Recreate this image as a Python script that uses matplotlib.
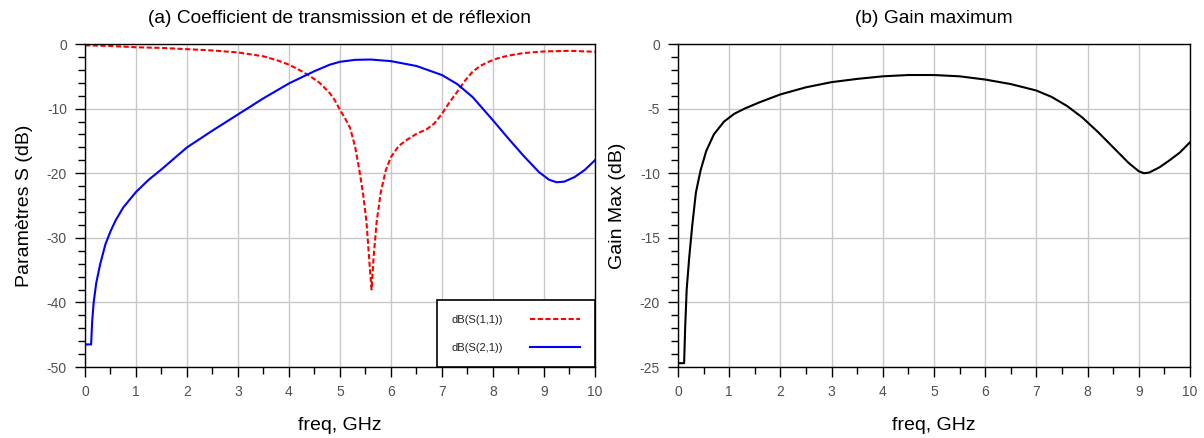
import matplotlib
matplotlib.use("Agg")
import matplotlib.pyplot as plt
from matplotlib.ticker import MultipleLocator
from matplotlib.lines import Line2D

plt.rcParams['font.family'] = ['Liberation Sans', 'DejaVu Sans']
plt.rcParams['axes.unicode_minus'] = False

# S21 transmission (dB)
freq_s21 = [0.0, 0.12, 0.14, 0.17, 0.22, 0.30, 0.40, 0.50, 0.60, 0.75, 1.0, 1.25,
            1.5, 2.0, 2.5, 3.0, 3.5, 4.0, 4.5, 4.8, 5.0, 5.3, 5.6, 6.0, 6.5, 7.0,
            7.3, 7.6, 8.0, 8.3, 8.6, 8.9, 9.1, 9.25, 9.4, 9.6, 9.8, 10.0]
s21_db = [-46.5, -46.5, -43, -40, -37, -34, -31, -29, -27.3, -25.3, -22.9, -21.0,
          -19.4, -16.0, -13.4, -10.9, -8.4, -6.1, -4.2, -3.2, -2.75, -2.45, -2.4,
          -2.65, -3.4, -4.8, -6.2, -8.2, -11.8, -14.6, -17.3, -19.8, -21.0, -21.4,
          -21.3, -20.6, -19.5, -18.0]

# S11 reflection (dB)
freq_s11 = [0.0, 0.5, 1.0, 1.5, 2.0, 2.5, 3.0, 3.5, 3.8, 4.0, 4.2, 4.4, 4.6, 4.8,
            4.9, 5.0, 5.1, 5.2, 5.3, 5.38, 5.45, 5.52, 5.58, 5.62, 5.66, 5.72, 5.8,
            5.9, 6.0, 6.15, 6.3, 6.5, 6.7, 6.85, 7.0, 7.15, 7.3, 7.45, 7.6, 7.75,
            7.9, 8.1, 8.3, 8.6, 9.0, 9.5, 10.0]
s11_db = [-0.2, -0.3, -0.5, -0.6, -0.8, -1.0, -1.3, -1.9, -2.6, -3.2, -4.0, -4.9,
          -6.0, -7.6, -8.7, -10.2, -11.5, -13.0, -16.0, -19.5, -23, -27.5, -34, -38,
          -33, -27.5, -23, -19.5, -17.5, -15.8, -14.9, -13.9, -13.2, -12.3, -10.8,
          -9.0, -7.4, -5.7, -4.3, -3.4, -2.8, -2.2, -1.8, -1.4, -1.15, -1.05, -1.2]

# Maximum gain (dB)
freq_gain = [0.0, 0.12, 0.14, 0.17, 0.22, 0.28, 0.35, 0.44, 0.55, 0.7, 0.9, 1.1,
             1.3, 1.6, 2.0, 2.5, 3.0, 3.5, 4.0, 4.5, 5.0, 5.5, 6.0, 6.5, 7.0, 7.3,
             7.6, 7.9, 8.2, 8.5, 8.8, 9.0, 9.1, 9.2, 9.4, 9.6, 9.8, 10.0]
gain_db = [-24.7, -24.7, -22, -19, -16.5, -14, -11.5, -9.8, -8.3, -7.0, -6.0, -5.4,
           -5.0, -4.5, -3.9, -3.35, -2.95, -2.7, -2.5, -2.4, -2.4, -2.5, -2.75, -3.1,
           -3.6, -4.1, -4.8, -5.7, -6.8, -8.0, -9.2, -9.85, -10.0, -9.95, -9.55,
           -9.0, -8.4, -7.6]

fig = plt.figure(figsize=(12.04, 4.38), dpi=100)
ax1 = fig.add_axes([0.0706, 0.162, 0.4235, 0.7375])
ax2 = fig.add_axes([0.5631, 0.162, 0.4253, 0.7375])

tick_color = '#505050'


def style_axes(ax, ymin, ymax, ymajor, yminor):
    ax.set_xlim(0, 10)
    ax.set_ylim(ymin, ymax)
    ax.xaxis.set_major_locator(MultipleLocator(1))
    ax.xaxis.set_minor_locator(MultipleLocator(0.5))
    ax.yaxis.set_major_locator(MultipleLocator(ymajor))
    ax.yaxis.set_minor_locator(MultipleLocator(yminor))
    ax.grid(True, which='major', color='#c8c8c8', linewidth=1.0)
    ax.set_axisbelow(True)
    ax.tick_params(which='both', direction='out', top=False, right=False,
                   color='black', labelcolor=tick_color, labelsize=10)
    ax.tick_params(which='major', length=7, width=1, pad=6)
    ax.tick_params(which='minor', length=5, width=1)
    for sp in ax.spines.values():
        sp.set_color('black')
        sp.set_linewidth(1.0)
    ax.set_xlabel('freq, GHz', fontsize=14, labelpad=13)


style_axes(ax1, -50, 0, 10, 2)
style_axes(ax2, -25, 0, 5, 1)

ax1.plot(freq_s11, s11_db, color='#ff0000', linewidth=1.5,
         linestyle=(0, (2.5, 1.2)))
ax1.plot(freq_s21, s21_db, color='#0000ff', linewidth=1.5)
ax1.set_ylabel('Paramètres S (dB)', fontsize=14, labelpad=10)
ax1.set_title('(a) Coefficient de transmission et de réflexion', fontsize=13.8,
              pad=15)

handles = [Line2D([], [], color='#ff0000', linewidth=1.5, linestyle=(0, (2.5, 1.2))),
           Line2D([], [], color='#0000ff', linewidth=1.5)]
leg = ax1.legend(handles, ['dB(S(1,1))', 'dB(S(2,1))'], loc='lower right',
                 bbox_to_anchor=(1.0, 0.0), borderaxespad=0, markerfirst=False,
                 fontsize=8, fancybox=False, framealpha=1, edgecolor='black',
                 handlelength=4.5, handletextpad=2.5, borderpad=1.3,
                 labelspacing=1.6)
leg.get_frame().set_linewidth(1.2)
leg.get_frame().set_boxstyle('square', pad=0)
for t in leg.get_texts():
    t.set_color('#222222')

ax2.plot(freq_gain, gain_db, color='black', linewidth=1.5)
ax2.set_ylabel('Gain Max (dB)', fontsize=14, labelpad=10)
ax2.set_title('(b) Gain maximum', fontsize=13.8, pad=15)

fig.savefig('out.png', dpi=100)
